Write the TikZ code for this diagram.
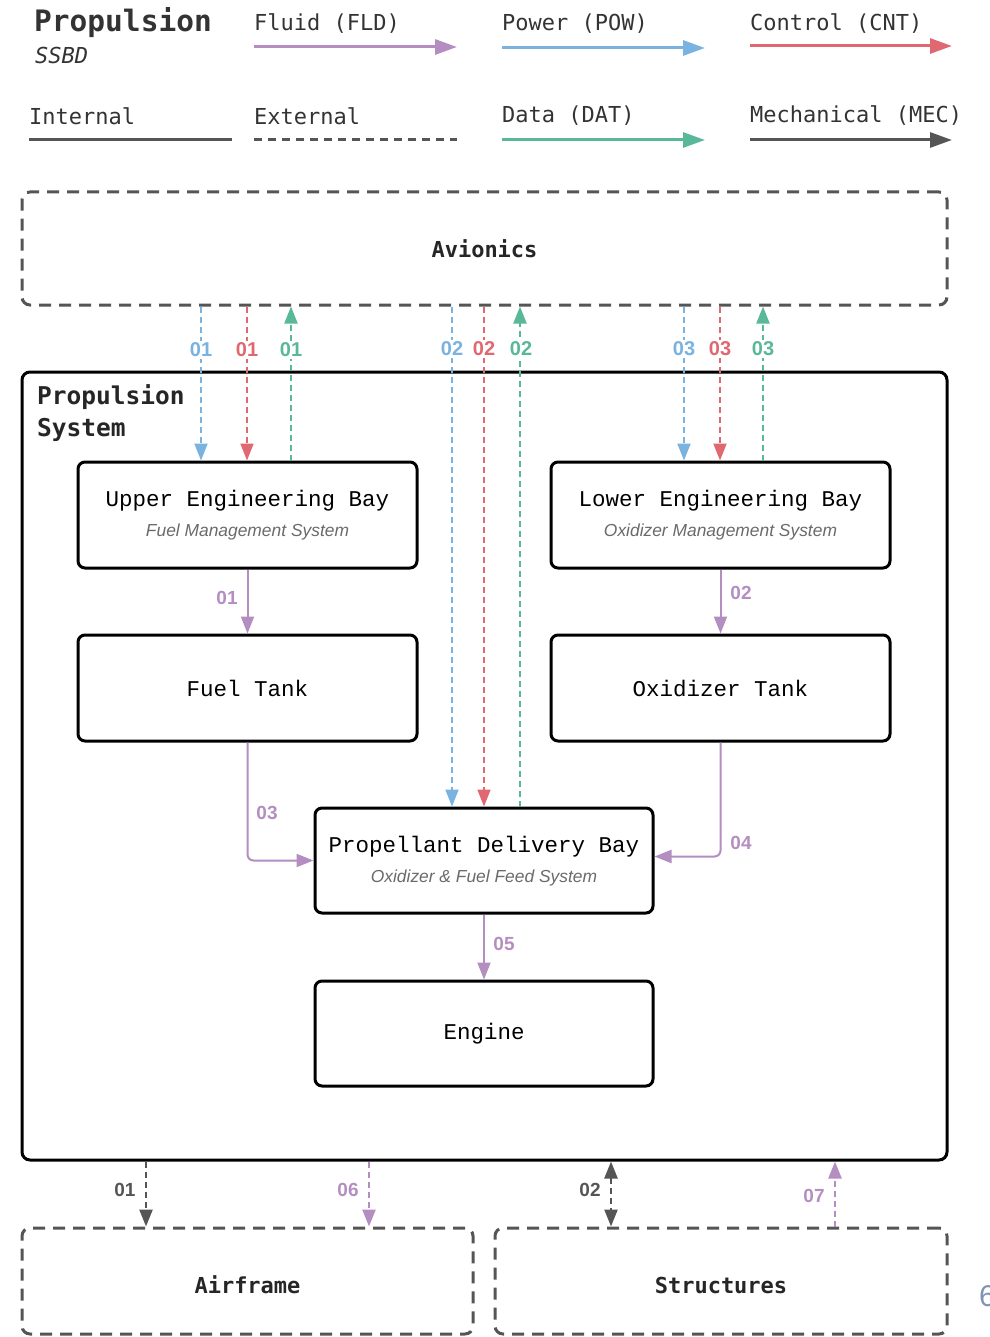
\documentclass[tikz,border=0pt]{standalone}
\usepackage{fontspec}
\setmainfont{Liberation Sans}
\newfontfamily\legmono{DejaVu Sans Mono}
\newfontfamily\boxmono{Liberation Mono}
\usetikzlibrary{arrows.meta,calc}
\definecolor{fldc}{HTML}{B48EC0}
\definecolor{powc}{HTML}{7AB2E0}
\definecolor{cntc}{HTML}{E06870}
\definecolor{datc}{HTML}{5AB89A}
\definecolor{mecc}{HTML}{555555}
\definecolor{extc}{HTML}{555555}
\definecolor{subgrey}{HTML}{6A6A6A}
\definecolor{pagenum}{HTML}{8093B5}
\begin{document}
\begin{tikzpicture}[x=1pt,y=-1pt,
  tip/.style={-{Triangle[length=17pt,width=13pt]}},
  bitip/.style={{Triangle[length=17pt,width=13pt]}-{Triangle[length=17pt,width=13pt]}},
  legtip/.style={-{Triangle[length=22pt,width=15pt]}},
  legline/.style={line width=3pt},
  conn/.style={line width=2pt, dash pattern=on 6pt off 4pt},
  fconn/.style={line width=2pt},
  extbox/.style={draw=extc, line width=3pt, dash pattern=on 12pt off 8pt, rounded corners=8pt, inner sep=0pt,
    font=\legmono\bfseries\fontsize{22}{26}\selectfont, text=black!85},
  sysbox/.style={draw=black, line width=3pt, rounded corners=8pt, inner sep=0pt},
  compbox/.style={draw=black, line width=3pt, rounded corners=7pt, minimum width=339pt, minimum height=106pt, inner sep=0pt},
  ttl/.style={font=\boxmono\fontsize{22.5}{26}\selectfont, inner sep=0pt},
  sub/.style={font=\itshape\fontsize{17.4}{20}\selectfont, text=subgrey, inner sep=0pt},
  leg/.style={anchor=west, inner sep=0pt, font=\legmono\fontsize{22}{26}\selectfont, text=black!80},
  alab/.style={fill=white, inner sep=1.5pt, font=\bfseries\fontsize{20}{22}\selectfont},
  ilab/.style={inner sep=0pt, font=\bfseries\fontsize{19}{22}\selectfont},
]
\useasboundingbox (0,0) rectangle (989,1337);

% ---------- legend ----------
\node[anchor=west, inner sep=0pt, font=\legmono\bfseries\fontsize{29.5}{32}\selectfont, text=black!80] (title) at (34,23) {Propulsion};
\node[anchor=west, inner sep=0pt, font=\legmono\itshape\fontsize{22}{26}\selectfont, text=black!80] (ssbd) at (35,55) {SSBD};

\node[leg] (lfld) at (254,24) {Fluid (FLD)};
\draw[fldc, legline, legtip] (254,47) -- (457,47);
\node[leg] (lpow) at (502,24) {Power (POW)};
\draw[powc, legline, legtip] (502,48) -- (705,48);
\node[leg] (lcnt) at (750,24) {Control (CNT)};
\draw[cntc, legline, legtip] (750,46) -- (952,46);

\node[leg] (lint) at (29,116) {Internal};
\draw[mecc, legline] (29,140) -- (232,140);
\node[leg] (lext) at (254,116) {External};
\draw[extc, legline, dash pattern=on 8pt off 6pt] (254,140) -- (457,140);
\node[leg] (ldat) at (502,116) {Data (DAT)};
\draw[datc, legline, legtip] (502,140) -- (705,140);
\node[leg] (lmec) at (750,116) {Mechanical (MEC)};
\draw[mecc, legline, legtip] (750,140) -- (952,140);

% ---------- boxes ----------
\node[extbox, minimum width=925pt, minimum height=113pt] (avi) at (484.5,248.5) {Avionics};
\node[sysbox, minimum width=925pt, minimum height=788pt] (prop) at (484.5,766) {};
\node[anchor=west, align=left, inner sep=0pt, font=\legmono\bfseries\fontsize{24.5}{32}\selectfont, text=black!85] (proplab) at (37,413) {Propulsion\\System};

\node[compbox] (ueb) at (247.5,515) {};
\node[ttl] (uebt) at (247.5,501) {Upper Engineering Bay};
\node[sub] (uebs) at (247.5,532) {Fuel Management System};

\node[compbox] (leb) at (720.5,515) {};
\node[ttl] (lebt) at (720.5,501) {Lower Engineering Bay};
\node[sub] (lebs) at (720.5,532) {Oxidizer Management System};

\node[compbox] (ft) at (247.5,688) {};
\node[ttl] (ftt) at (247.5,688) {Fuel Tank};

\node[compbox] (ot) at (720.5,688) {};
\node[ttl] (ott) at (720.5,688) {Oxidizer Tank};

\node[compbox, minimum width=338pt, minimum height=105pt] (pdb) at (484,860.5) {};
\node[ttl] (pdbt) at (484,847) {Propellant Delivery Bay};
\node[sub] (pdbs) at (484,878) {Oxidizer \& Fuel Feed System};

\node[compbox, minimum width=338pt, minimum height=105pt] (eng) at (484,1033.5) {};
\node[ttl] (engt) at (484,1034) {Engine};

\node[extbox, minimum width=451pt, minimum height=106pt] (air) at (247.5,1281) {};
\node[inner sep=0pt, font=\legmono\bfseries\fontsize{22}{26}\selectfont, text=black!85] (airt) at (247.5,1285) {Airframe};
\node[extbox, minimum width=452pt, minimum height=106pt] (str) at (721,1281) {};
\node[inner sep=0pt, font=\legmono\bfseries\fontsize{22}{26}\selectfont, text=black!85] (strt) at (721,1285) {Structures};

\node[anchor=west, inner sep=0pt, text=pagenum, font=\fontsize{30}{30}\selectfont] (pg) at (979,1296) {6};

% ---------- avionics connectors ----------
\draw[powc, conn, tip] (201,0 |- avi.south) -- (201,0 |- ueb.north);
\draw[cntc, conn, tip] (247,0 |- avi.south) -- (247,0 |- ueb.north);
\draw[datc, conn, tip] (291,0 |- ueb.north) -- (291,0 |- avi.south);
\node[alab, text=powc] (a1) at (201,350) {01};
\node[alab, text=cntc] (a2) at (247,350) {01};
\node[alab, text=datc] (a3) at (291,350) {01};

\draw[powc, conn, tip] (452,0 |- avi.south) -- (452,0 |- pdb.north);
\draw[cntc, conn, tip] (484,0 |- avi.south) -- (484,0 |- pdb.north);
\draw[datc, conn, tip] (520,0 |- pdb.north) -- (520,0 |- avi.south);
\node[alab, text=powc] (b1) at (452,349) {02};
\node[alab, text=cntc] (b2) at (484,349) {02};
\node[alab, text=datc] (b3) at (521,349) {02};

\draw[powc, conn, tip] (684,0 |- avi.south) -- (684,0 |- leb.north);
\draw[cntc, conn, tip] (720,0 |- avi.south) -- (720,0 |- leb.north);
\draw[datc, conn, tip] (763,0 |- leb.north) -- (763,0 |- avi.south);
\node[alab, text=powc] (c1) at (684,349) {03};
\node[alab, text=cntc] (c2) at (720,349) {03};
\node[alab, text=datc] (c3) at (763,349) {03};

% ---------- internal fluid connectors ----------
\draw[fldc, fconn, tip] (ueb.south) -- (ft.north);
\node[ilab, text=fldc] (f1) at (227,598) {01};
\draw[fldc, fconn, tip] (leb.south) -- (ot.north);
\node[ilab, text=fldc] (f2) at (741,593) {02};
\draw[fldc, fconn, tip, rounded corners=6pt] (ft.south) |- (pdb.west);
\node[ilab, text=fldc] (f3) at (267,813) {03};
\draw[fldc, fconn, tip, rounded corners=6pt] (ot.south) |- ([yshift=4pt]pdb.east);
\node[ilab, text=fldc] (f4) at (741,843) {04};
\draw[fldc, fconn, tip] (pdb.south) -- (eng.north);
\node[ilab, text=fldc] (f5) at (504,944) {05};

% ---------- external bottom connectors ----------
\draw[mecc, conn, line width=2.5pt, tip] (146,0 |- prop.south) -- (146,0 |- air.north);
\node[ilab, text=mecc] (m1) at (125,1190) {01};
\draw[fldc, conn, line width=2.5pt, tip] (369,0 |- prop.south) -- (369,0 |- air.north);
\node[ilab, text=fldc] (m6) at (348,1190) {06};
\draw[mecc, conn, line width=2.5pt, bitip] (611,0 |- prop.south) -- (611,0 |- str.north);
\node[ilab, text=mecc] (m2) at (590,1190) {02};
\draw[fldc, conn, line width=2.5pt, tip] (835,0 |- str.north) -- (835,0 |- prop.south);
\node[ilab, text=fldc] (m7) at (814,1196) {07};
\end{tikzpicture}
\end{document}
